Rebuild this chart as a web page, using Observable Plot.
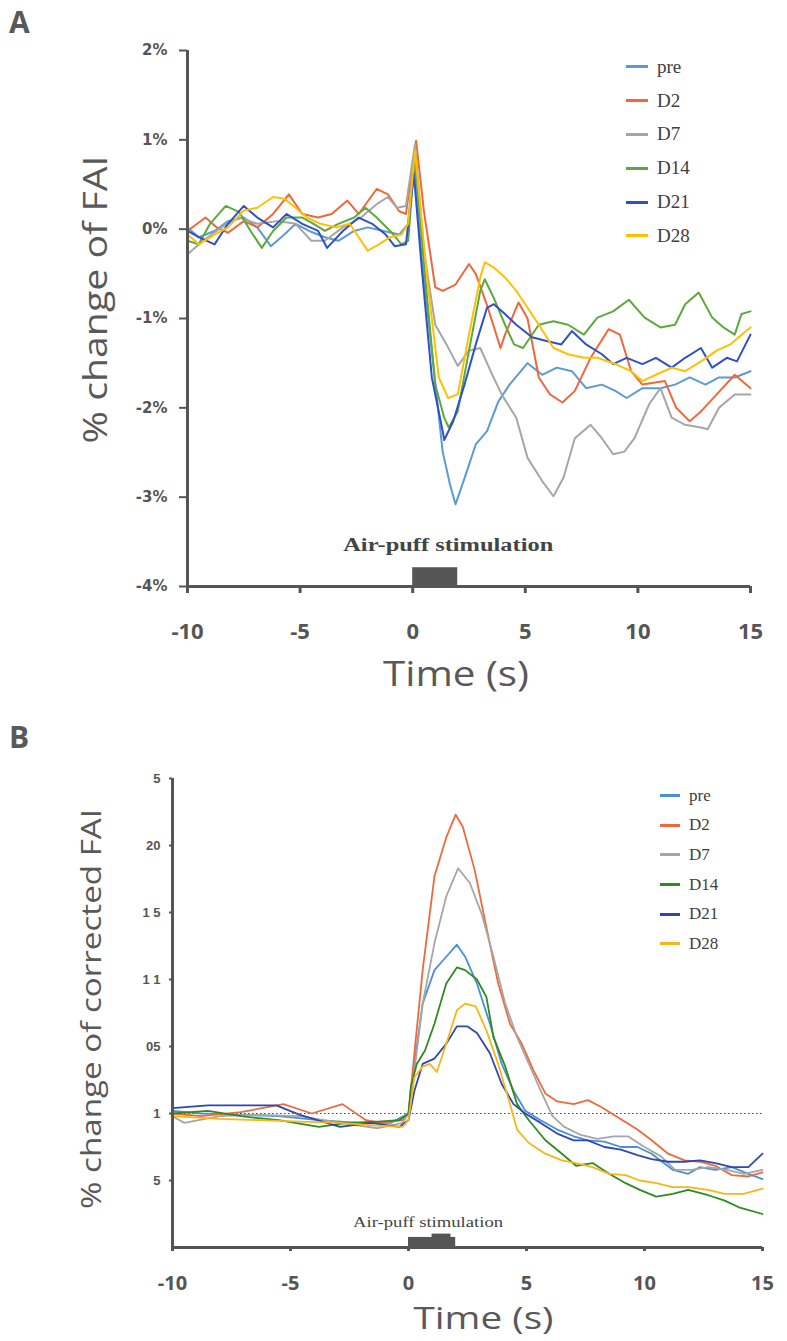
<!DOCTYPE html>
<html><head><meta charset="utf-8">
<script src="https://cdn.jsdelivr.net/npm/d3@7"></script>
<script src="https://cdn.jsdelivr.net/npm/@observablehq/plot@0.6"></script>
<style>
body{margin:0;background:#fff;}
#wrap{position:relative;width:787px;height:1341px;overflow:hidden;}
.panel{position:absolute;left:0;}
.plab{position:absolute;font:bold 30px "Open Sans",sans-serif;color:#595959;line-height:1;}
.legend{position:absolute;font-family:"Liberation Serif","Times New Roman",serif;color:#404040;}
.legend .it{display:flex;align-items:center;white-space:nowrap;}
.legend .sw{display:inline-block;width:21px;height:3px;margin-right:9px;}
</style></head><body><div id="wrap"></div>
<script>
// ---------- data ----------
const series = ["pre", "D2", "D7", "D14", "D21", "D28"];
const colorsA = ["#5B9BD5", "#F0683A", "#A6A6A6", "#5DAA3C", "#3050C8", "#FFC000"];
const colorsB = ["#4A8FD8", "#EF6A3A", "#A6A6A6", "#2E8B20", "#2D47B5", "#F9B51A"];
const xTicks = [-10, -5, 0, 5, 10, 15];
const yTicksA = [2, 1, 0, -1, -2, -3, -4];
const yTickLabelsA = ["2%", "1%", "0%", "-1%", "-2%", "-3%", "-4%"];
const yTicksB = [2.5, 2, 1.5, 1, 0.5, 0, -0.5];
const yTickLabelsB = ["5", "20", "1 5", "1 1", "05", "1", "5"];
const stim = [0, 2];
const stimBump = [1.0, 1.8];
const stimLabel = "Air-puff stimulation";

// Panel A: % change of FAI  [time (s), value (%)]
const aPre = [[-10,0.02],[-9.5,-0.09],[-8.8,-0.02],[-8.2,0.09],[-7.5,0.13],[-6.9,0.02],[-6.3,-0.19],[-5.7,-0.06],[-5.2,0.06],[-4.6,-0.02],[-3.9,-0.09],[-3.3,-0.13],[-2.6,-0.02],[-2.0,0.02],[-1.3,-0.02],[-0.6,-0.06],[-0.2,0.06],[0.05,0.8],[0.4,-0.32],[0.85,-1.36],[1.33,-2.49],[1.66,-2.86],[1.9,-3.08],[2.3,-2.79],[2.8,-2.41],[3.3,-2.26],[3.8,-1.93],[4.3,-1.74],[5.1,-1.5],[5.75,-1.63],[6.4,-1.55],[7.07,-1.59],[7.7,-1.78],[8.4,-1.74],[9.0,-1.81],[9.5,-1.89],[10.2,-1.78],[11.0,-1.78],[11.65,-1.74],[12.3,-1.66],[13.0,-1.74],[13.6,-1.66],[14.3,-1.66],[15,-1.59]];
const aD2 = [[-10,-0.02],[-9.2,0.13],[-8.7,0.02],[-8.2,-0.04],[-7.5,0.09],[-6.9,0.02],[-6.2,0.17],[-5.5,0.39],[-4.9,0.17],[-4.2,0.13],[-3.6,0.17],[-2.9,0.32],[-2.4,0.17],[-1.6,0.45],[-1.1,0.39],[-0.6,0.2],[-0.3,0.17],[0.15,0.99],[0.5,0.2],[1.0,-0.65],[1.33,-0.69],[1.9,-0.62],[2.5,-0.39],[2.8,-0.5],[3.3,-0.85],[3.9,-1.33],[4.1,-1.18],[4.7,-0.82],[5.1,-1.0],[5.6,-1.66],[6.1,-1.85],[6.65,-1.94],[7.2,-1.81],[7.9,-1.44],[8.7,-1.12],[9.2,-1.18],[9.7,-1.59],[10.2,-1.74],[11.2,-1.7],[11.7,-2.0],[12.3,-2.15],[12.8,-2.04],[13.5,-1.85],[14.3,-1.63],[15,-1.78]];
const aD7 = [[-10,-0.28],[-9.3,-0.13],[-8.5,0.02],[-7.7,0.13],[-6.9,0.06],[-6.0,0.09],[-5.2,0.06],[-4.5,-0.13],[-3.9,-0.13],[-3.1,0.02],[-2.3,0.13],[-1.6,0.28],[-1.1,0.36],[-0.7,0.24],[-0.3,0.26],[0.1,0.95],[0.5,-0.24],[1.0,-1.07],[1.5,-1.29],[2.0,-1.53],[2.5,-1.36],[3.0,-1.33],[3.46,-1.59],[3.95,-1.85],[4.6,-2.11],[5.1,-2.56],[5.75,-2.82],[6.25,-2.99],[6.7,-2.78],[7.2,-2.34],[7.9,-2.19],[8.4,-2.34],[8.9,-2.52],[9.4,-2.49],[9.85,-2.34],[10.5,-1.96],[11.0,-1.78],[11.5,-2.11],[12.1,-2.19],[12.8,-2.22],[13.1,-2.24],[13.6,-2.0],[14.3,-1.85],[15,-1.85]];
const aD14 = [[-10,-0.13],[-9.5,-0.17],[-9.0,0.06],[-8.3,0.26],[-7.7,0.19],[-7.2,-0.02],[-6.7,-0.21],[-6.2,-0.02],[-5.6,0.13],[-4.9,0.13],[-4.4,0.06],[-3.9,-0.02],[-3.3,0.06],[-2.6,0.13],[-2.1,0.24],[-1.6,0.13],[-1.0,-0.02],[-0.5,-0.17],[-0.2,-0.13],[0.1,0.84],[0.5,-0.39],[1.0,-1.74],[1.4,-2.11],[1.6,-2.22],[2.0,-2.04],[2.5,-1.36],[3.0,-0.69],[3.2,-0.56],[3.6,-0.77],[4.1,-1.07],[4.5,-1.29],[4.9,-1.33],[5.6,-1.07],[6.25,-1.03],[6.9,-1.07],[7.6,-1.18],[8.2,-0.99],[8.9,-0.92],[9.6,-0.79],[10.3,-0.99],[11.0,-1.1],[11.65,-1.07],[12.1,-0.84],[12.7,-0.71],[13.3,-0.99],[13.8,-1.1],[14.3,-1.18],[14.6,-0.95],[15,-0.92]];
const aD21 = [[-10,-0.02],[-9.5,-0.09],[-8.8,-0.17],[-8.2,0.06],[-7.5,0.26],[-6.9,0.13],[-6.2,0.02],[-5.6,0.17],[-4.9,0.06],[-4.2,-0.02],[-3.8,-0.21],[-3.1,-0.02],[-2.4,0.13],[-1.8,0.06],[-1.2,-0.06],[-0.8,-0.19],[-0.3,-0.17],[0.05,0.62],[0.4,-0.43],[0.85,-1.66],[1.33,-2.26],[1.4,-2.36],[1.8,-2.15],[2.3,-1.74],[2.8,-1.29],[3.3,-0.88],[3.6,-0.84],[4.1,-0.95],[4.6,-1.07],[5.3,-1.21],[5.9,-1.25],[6.6,-1.29],[7.07,-1.14],[7.7,-1.29],[8.4,-1.4],[8.9,-1.51],[9.5,-1.44],[10.2,-1.51],[10.8,-1.44],[11.5,-1.55],[12.1,-1.44],[12.8,-1.33],[13.3,-1.55],[13.95,-1.44],[14.4,-1.48],[15,-1.18]];
const aD28 = [[-10,-0.06],[-9.5,-0.17],[-8.8,-0.06],[-8.2,0.02],[-7.5,0.21],[-6.9,0.24],[-6.2,0.36],[-5.7,0.34],[-5.2,0.24],[-4.7,0.13],[-4.1,0.06],[-3.4,0.02],[-2.8,0.06],[-2.0,-0.24],[-1.5,-0.17],[-1.0,-0.09],[-0.5,-0.06],[-0.2,0.06],[0.1,0.88],[0.67,-0.62],[1.16,-1.66],[1.57,-1.89],[2.0,-1.85],[2.5,-1.18],[3.0,-0.54],[3.2,-0.37],[3.6,-0.43],[4.1,-0.54],[4.6,-0.69],[5.1,-0.88],[5.6,-1.07],[6.25,-1.33],[6.9,-1.4],[7.6,-1.44],[8.2,-1.44],[9.0,-1.51],[9.7,-1.59],[10.2,-1.7],[10.8,-1.63],[11.5,-1.55],[12.1,-1.59],[12.8,-1.48],[13.5,-1.36],[14.1,-1.29],[14.8,-1.14],[15,-1.1]];

// Panel B: % change of corrected FAI  [time (s), value]
const bPre = [[-10,0.02],[-8.8,0],[-7.1,-0.01],[-5.5,-0.02],[-3.8,-0.05],[-2.1,-0.07],[-0.75,-0.07],[0,0],[0.25,0.37],[0.6,0.82],[1.1,1.07],[1.6,1.17],[2.05,1.26],[2.4,1.17],[2.9,0.97],[3.45,0.67],[3.95,0.37],[4.45,0.17],[4.95,0.02],[5.6,-0.05],[6.3,-0.12],[7.0,-0.17],[7.6,-0.2],[8.3,-0.21],[9.0,-0.25],[9.7,-0.25],[10.3,-0.3],[11.2,-0.42],[11.85,-0.45],[12.35,-0.4],[13.0,-0.42],[13.7,-0.4],[14.4,-0.45],[15,-0.49]];
const bD2 = [[-10,0],[-8.8,-0.02],[-7.1,0.01],[-5.3,0.07],[-4.1,0],[-2.8,0.07],[-1.8,-0.05],[-1.1,-0.07],[-0.25,-0.05],[0,0],[0.25,0.45],[0.6,1.07],[1.1,1.77],[1.6,2.06],[2.0,2.23],[2.3,2.14],[2.8,1.82],[3.3,1.39],[3.8,0.97],[4.3,0.67],[4.8,0.52],[5.3,0.32],[5.8,0.15],[6.3,0.09],[7.0,0.07],[7.6,0.1],[8.15,0.05],[8.8,-0.02],[9.7,-0.12],[10.3,-0.2],[11.0,-0.3],[11.7,-0.35],[12.35,-0.36],[13.0,-0.39],[13.7,-0.46],[14.4,-0.47],[15,-0.44]];
const bD7 = [[-10,-0.02],[-9.5,-0.07],[-8.0,-0.02],[-6.3,-0.01],[-4.6,-0.02],[-2.9,-0.07],[-1.3,-0.11],[-0.25,-0.07],[0,0],[0.25,0.32],[0.6,0.82],[1.1,1.27],[1.6,1.62],[2.1,1.83],[2.6,1.72],[3.1,1.49],[3.6,1.17],[4.1,0.82],[4.6,0.57],[5.1,0.37],[5.6,0.17],[6.1,-0.02],[6.6,-0.1],[7.3,-0.16],[8.0,-0.19],[8.7,-0.17],[9.3,-0.17],[10.0,-0.25],[10.7,-0.32],[11.3,-0.42],[12.0,-0.42],[12.7,-0.4],[13.5,-0.42],[14.2,-0.45],[15,-0.42]];
const bD14 = [[-10,0],[-8.5,0.02],[-7.1,-0.02],[-5.5,-0.05],[-3.8,-0.1],[-2.6,-0.07],[-1.3,-0.06],[-0.4,-0.05],[0,0],[0.1,0.2],[0.35,0.37],[0.7,0.47],[1.1,0.67],[1.6,0.97],[2.05,1.09],[2.4,1.07],[2.9,1.0],[3.3,0.87],[3.6,0.57],[4.1,0.35],[4.6,0.07],[5.1,-0.05],[5.8,-0.2],[6.5,-0.3],[7.1,-0.39],[7.8,-0.37],[8.5,-0.45],[9.2,-0.52],[9.8,-0.57],[10.5,-0.62],[11.2,-0.6],[11.85,-0.57],[12.7,-0.61],[13.4,-0.65],[14.0,-0.7],[15,-0.75]];
const bD21 = [[-10,0.04],[-8.5,0.06],[-7.1,0.06],[-5.6,0.06],[-4.6,-0.01],[-2.9,-0.1],[-1.6,-0.07],[-0.4,-0.1],[0,-0.05],[0.25,0.17],[0.6,0.37],[1.1,0.41],[1.6,0.52],[2.05,0.65],[2.5,0.65],[2.9,0.6],[3.45,0.45],[3.95,0.22],[4.45,0.07],[4.95,0],[5.6,-0.07],[6.3,-0.15],[7.0,-0.2],[7.6,-0.2],[8.3,-0.25],[9.0,-0.27],[9.7,-0.31],[10.3,-0.34],[11.0,-0.36],[11.7,-0.36],[12.35,-0.35],[13.0,-0.37],[13.7,-0.4],[14.4,-0.4],[15,-0.3]];
const bD28 = [[-10,-0.02],[-8.0,-0.04],[-6.3,-0.05],[-4.6,-0.06],[-2.9,-0.07],[-1.3,-0.09],[-0.25,-0.1],[0,-0.05],[0.25,0.27],[0.6,0.35],[0.9,0.37],[1.2,0.31],[1.6,0.52],[2.05,0.77],[2.4,0.82],[2.85,0.8],[3.3,0.62],[3.8,0.37],[4.3,0.07],[4.6,-0.12],[5.1,-0.22],[5.8,-0.3],[6.5,-0.35],[7.1,-0.37],[7.8,-0.4],[8.5,-0.45],[9.2,-0.46],[9.8,-0.5],[10.5,-0.52],[11.2,-0.55],[11.85,-0.55],[12.7,-0.57],[13.4,-0.6],[14.2,-0.6],[15,-0.56]];

// ---------- build ----------
const toRows = arrs => series.flatMap((s, i) => arrs[i].map(([t, v]) => ({s, t, v})));
const rowsA = toRows([aPre, aD2, aD7, aD14, aD21, aD28]);
const rowsB = toRows([bPre, bD2, bD7, bD14, bD21, bD28]);
const ink = "#555";

function panel(cfg) {
  const [yMin] = cfg.yDomain;
  const svg = Plot.plot({
    width: 787, height: cfg.height,
    marginLeft: cfg.ml, marginRight: cfg.mr, marginTop: cfg.mt, marginBottom: cfg.mb,
    x: {domain: [-10, 15], label: null},
    y: {domain: cfg.yDomain, label: null},
    color: {domain: series, range: cfg.colors},
    style: {fontFamily: "'Open Sans', sans-serif", color: ink, background: "transparent", overflow: "visible"},
    marks: [
      ...(cfg.zeroRule ? [Plot.ruleY([0], {stroke: "#444", strokeWidth: 1.2, strokeDasharray: "1.5,2.5"})] : []),
      Plot.line(cfg.rows, {x: "t", y: "v", z: "s", stroke: "s", strokeWidth: cfg.lw, curve: "linear"}),
      Plot.rect([stim], {x1: d => d[0], x2: d => d[1], y1: yMin, y2: yMin + cfg.stimH, fill: ink}),
      ...(cfg.bump ? [Plot.rect([stimBump], {x1: d => d[0], x2: d => d[1], y1: yMin, y2: yMin + cfg.stimH + cfg.bump, fill: ink})] : []),
      Plot.text([stimLabel], {x: (stim[0] + stim[1]) / 2, frameAnchor: "bottom", dx: cfg.labDx, dy: cfg.labDy,
        text: d => d, fontSize: cfg.labFs, fontWeight: cfg.labFw, fontFamily: "'Liberation Serif', 'Times New Roman', serif",
        fill: "#444", textAnchor: "middle", lineAnchor: "middle", className: "stimlab"}),
      Plot.ruleX([-10], {stroke: ink, strokeWidth: 3}),
      Plot.ruleY([yMin], {stroke: ink, strokeWidth: 3}),
      Plot.axisX({ticks: xTicks, tickFormat: d => String(d), tickSize: cfg.xts, tickPadding: cfg.xtp, strokeWidth: 3,
        fontSize: cfg.xfs, fontWeight: "bold", fontFamily: "'Open Sans', sans-serif", color: ink, label: null}),
      Plot.axisY({ticks: cfg.yTicks, tickFormat: d => cfg.yLabels[cfg.yTicks.indexOf(d)], tickSize: cfg.yts, tickPadding: cfg.ytp,
        strokeWidth: 2, fontSize: cfg.yfs, fontWeight: cfg.yfw, fontFamily: cfg.yff, color: ink, label: null}),
      Plot.text([cfg.yTitle], {frameAnchor: "left", dx: cfg.ytDx, dy: cfg.ytDy, rotate: -90, textAnchor: "middle", lineAnchor: "middle",
        text: d => d, fontSize: cfg.ytFs, fill: "#595959", fontFamily: "'Open Sans', sans-serif", className: "ytitle"}),
      Plot.text(["Time (s)"], {frameAnchor: "bottom", dx: cfg.xtDx, dy: cfg.xtDy, textAnchor: "middle", lineAnchor: "middle",
        text: d => d, fontSize: cfg.xtFs, fill: "#595959", fontFamily: "'Open Sans', sans-serif", className: "xtitle"})
    ]
  });
  // widen texts to the reference's (horizontally stretched) proportions
  const fit = (cls, len) => svg.querySelectorAll(`.${cls} text`).forEach(t => {
    t.setAttribute("textLength", len); t.setAttribute("lengthAdjust", "spacingAndGlyphs");
  });
  fit("ytitle", cfg.ytLen); fit("xtitle", cfg.xtLen); fit("stimlab", cfg.labLen);
  return svg;
}

const svgA = panel({
  height: 700, ml: 187, mr: 37, mt: 50, mb: 114, yDomain: [-4, 2], colors: colorsA, rows: rowsA, lw: 2,
  stimH: 0.21, labDx: 13, labDy: -41, labFs: 18, labFw: "bold", labLen: 210,
  xts: 7, xtp: 30, xfs: 22, yTicks: yTicksA, yLabels: yTickLabelsA, yts: 8, ytp: 12, yfs: 15, yfw: "bold", yff: "'DejaVu Sans', Verdana, sans-serif",
  yTitle: "% change of FAI", ytDx: -91, ytDy: -19, ytFs: 33, ytLen: 288, xtDx: -13, xtDy: 89, xtFs: 34, xtLen: 146
});
const svgB = panel({
  height: 641, ml: 172, mr: 25, mt: 78, mb: 94, yDomain: [-1, 2.5], colors: colorsB, rows: rowsB, lw: 1.8, zeroRule: true,
  stimH: 0.075, bump: 0.025, labDx: -4, labDy: -25, labFs: 15, labFw: "normal", labLen: 150,
  xts: 4, xtp: 24, xfs: 20, yTicks: yTicksB, yLabels: yTickLabelsB, yts: 3, ytp: 9, yfs: 13, yfw: "bold", yff: "'Liberation Sans', sans-serif",
  yTitle: "% change of corrected FAI", ytDx: -80, ytDy: -4, ytFs: 27, ytLen: 400, xtDx: 16, xtDy: 72, xtFs: 31, xtLen: 140
});

const wrap = document.getElementById("wrap");
function place(el, top) { el.classList.add("panel"); el.style.top = top + "px"; wrap.appendChild(el); }
place(svgA, 0);
place(svgB, 700);

function label(txt, left, top) {
  const d = document.createElement("div"); d.className = "plab"; d.textContent = txt;
  d.style.left = left + "px"; d.style.top = top + "px"; wrap.appendChild(d);
}
label("A", 9, 7);
label("B", 9, 722);

function legend(colors, left, top, rowH, fs, sw) {
  const lg = document.createElement("div"); lg.className = "legend";
  lg.style.left = left + "px"; lg.style.top = top + "px"; lg.style.fontSize = fs + "px";
  series.forEach((s, i) => {
    const it = document.createElement("div"); it.className = "it"; it.style.height = rowH + "px";
    const w = document.createElement("span"); w.className = "sw"; w.style.background = colors[i]; w.style.width = sw + "px";
    const t = document.createElement("span"); t.textContent = s;
    it.append(w, t); lg.appendChild(it);
  });
  wrap.appendChild(lg);
}
legend(colorsA, 626, 50, 33.8, 19, 22);
legend(colorsB, 660, 781, 29.6, 17, 20);
</script></body></html>
